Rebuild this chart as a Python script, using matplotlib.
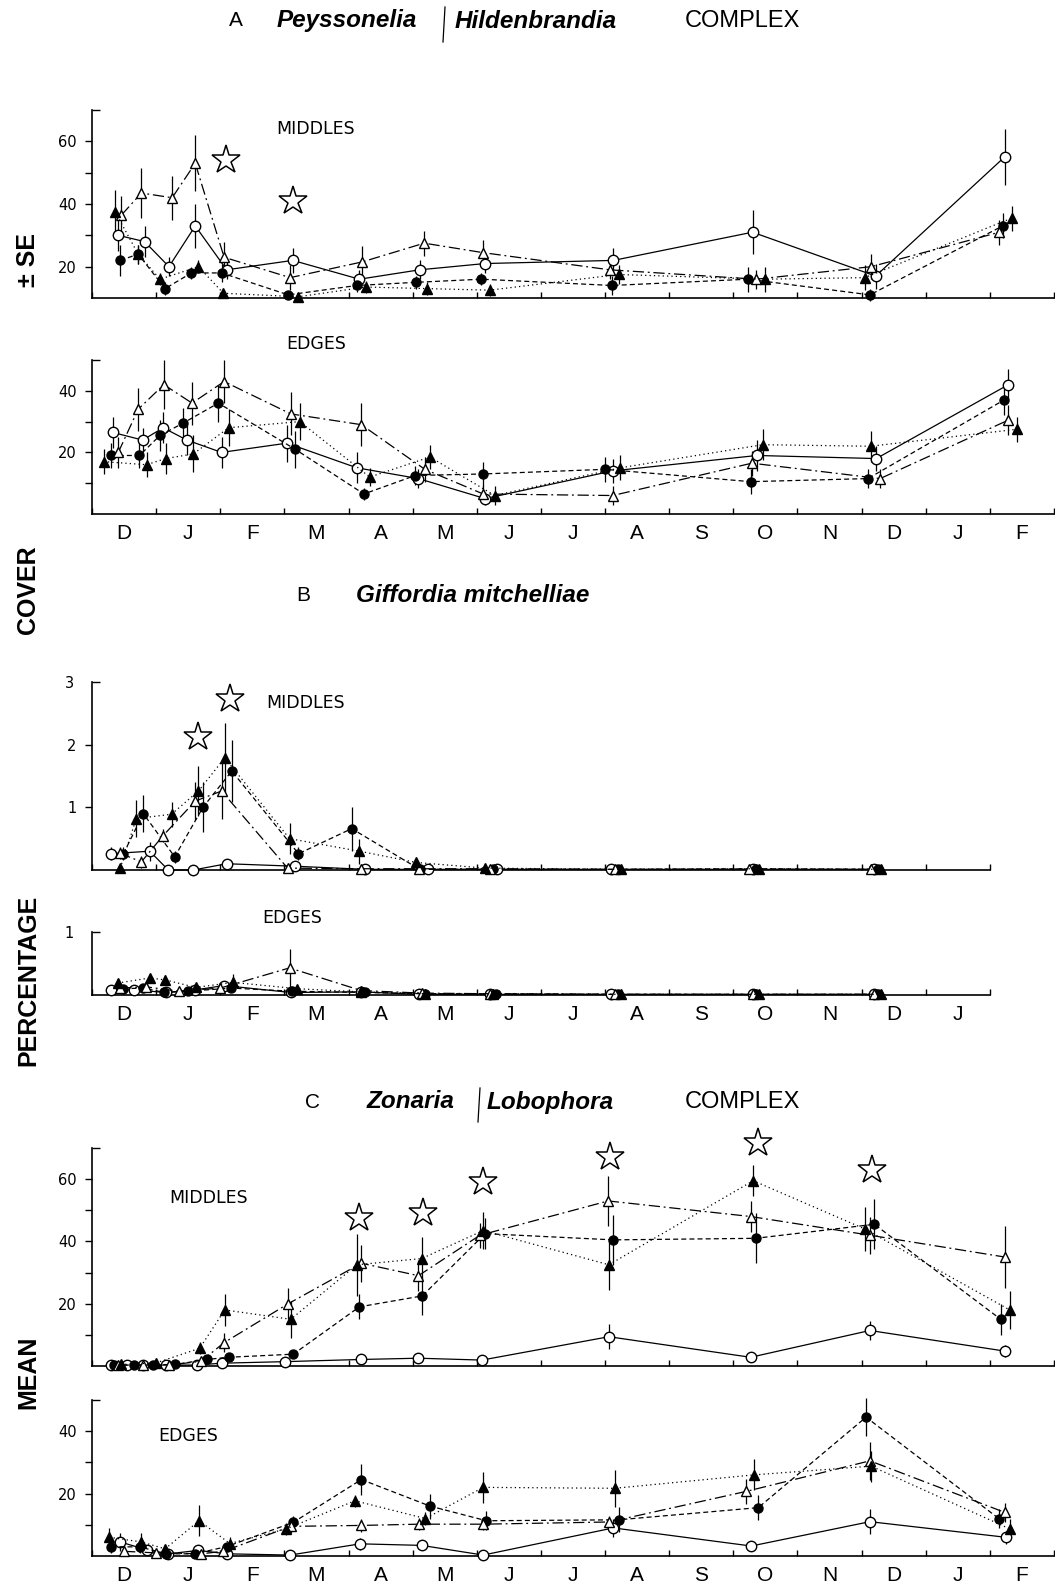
import matplotlib.pyplot as plt
from matplotlib.lines import Line2D

W, H = 1055, 1596
months = ['D', 'J', 'F', 'M', 'A', 'M', 'J', 'J', 'A', 'S', 'O', 'N', 'D', 'J', 'F']

# each point: (month since 1 Dec, mean % cover, SE)
# A  Peyssonelia / Hildenbrandia, middles
a_mid_oc = [(0.41, 30, 5), (0.82, 28, 5), (1.20, 20, 3), (1.61, 33, 7), (2.10, 19, 3), (3.13, 22, 4),
            (4.17, 16, 3), (5.11, 19, 3), (6.13, 21, 3), (8.13, 22, 4), (10.30, 31, 7), (12.22, 17, 4),
            (14.23, 55, 9)]
a_mid_fc = [(0.44, 22, 5), (0.72, 24, 3), (1.14, 13, 2), (1.55, 18, 2), (2.02, 18, 3), (3.06, 11, 1),
            (4.13, 14, 2), (5.05, 15, 2), (6.07, 16, 2), (8.11, 14, 3), (10.23, 16, 4), (12.13, 11, 2),
            (14.20, 33, 4)]
a_mid_ot = [(0.46, 36.5, 6), (0.77, 43.5, 8), (1.25, 42, 7), (1.61, 53, 9), (2.06, 23, 5), (3.09, 16.5, 4),
            (4.21, 21.5, 5), (5.18, 27.5, 4), (6.09, 24.5, 4), (8.07, 19, 3), (10.36, 16, 3), (12.15, 20, 4),
            (14.15, 31, 4)]
a_mid_ft = [(0.36, 37.5, 7), (0.72, 24, 3), (1.06, 16, 2), (1.66, 20, 2), (2.05, 11.5, 1), (3.22, 10.4, 1),
            (4.27, 13.5, 2), (5.22, 13, 2), (6.20, 12.5, 2), (8.21, 17.5, 3), (10.49, 16, 4), (12.05, 16.5, 4),
            (14.34, 35.5, 4)]
a_mid_stars = [(2.09, 54), (3.14, 41)]

# A edges
a_edg_oc = [(0.32, 26.5, 5), (0.79, 24, 4), (1.11, 28, 5), (1.48, 24, 5), (2.02, 20, 5), (3.04, 23, 6),
            (4.13, 15, 5), (5.09, 11.5, 3), (6.13, 5, 2), (8.12, 14, 4), (10.37, 19, 5), (12.23, 18, 4),
            (14.29, 42, 5)]
a_edg_fc = [(0.29, 19, 4), (0.74, 19, 4), (1.06, 25.5, 5), (1.42, 29.5, 5), (1.97, 36, 6), (3.17, 21, 6),
            (4.24, 6.5, 2), (5.04, 12.5, 3), (6.10, 13, 4), (8.00, 14.5, 4), (10.27, 10.5, 4), (12.10, 11.5, 3),
            (14.22, 37, 5)]
a_edg_ot = [(0.41, 20, 5), (0.72, 34, 7), (1.12, 42, 8), (1.56, 36, 7), (2.06, 43, 7), (3.10, 32.5, 7),
            (4.20, 29, 7), (5.19, 14.5, 4), (6.10, 6.5, 3), (8.12, 6, 3), (10.29, 16.5, 4), (12.29, 11.5, 3),
            (14.29, 30.5, 5)]
a_edg_ft = [(0.18, 17, 4), (0.85, 16, 4), (1.15, 18, 5), (1.58, 19.5, 6), (2.13, 28, 6), (3.24, 30, 6),
            (4.33, 12, 3), (5.27, 18.5, 4), (6.28, 6, 3), (8.24, 15, 4), (10.46, 22.5, 5), (12.14, 22, 5),
            (14.42, 27.5, 4)]

# B  Giffordia mitchelliae, middles
b_mid_oc = [(0.29, 0.26, 0.1), (0.90, 0.3, 0.15), (1.19, 0.0, 0), (1.58, 0.0, 0), (2.10, 0.1, 0.03),
            (3.17, 0.06, 0), (4.26, 0.01, 0), (5.24, 0.01, 0), (6.31, 0.01, 0), (8.10, 0.01, 0),
            (10.30, 0.01, 0), (12.20, 0.01, 0)]
b_mid_fc = [(0.49, 0.26, 0.1), (0.80, 0.9, 0.3), (1.29, 0.21, 0.1), (1.73, 1.0, 0.4), (2.18, 1.58, 0.5),
            (3.22, 0.26, 0.1), (4.05, 0.66, 0.35), (5.11, 0.01, 0), (6.25, 0.01, 0), (8.20, 0.01, 0),
            (10.35, 0.02, 0), (12.25, 0.01, 0)]
b_mid_ot = [(0.43, 0.27, 0.1), (0.77, 0.13, 0.1), (1.11, 0.55, 0.1), (1.61, 1.1, 0.3), (2.02, 1.26, 0.45),
            (3.05, 0.03, 0.02), (4.20, 0.02, 0), (5.10, 0.02, 0), (6.20, 0.02, 0), (8.15, 0.01, 0),
            (10.25, 0.01, 0), (12.15, 0.01, 0)]
b_mid_ft = [(0.44, 0.03, 0), (0.69, 0.82, 0.3), (1.24, 0.89, 0.2), (1.66, 1.26, 0.4), (2.07, 1.79, 0.55),
            (3.08, 0.5, 0.25), (4.17, 0.3, 0.2), (5.06, 0.12, 0.05), (6.13, 0.03, 0), (8.25, 0.01, 0),
            (10.40, 0.02, 0), (12.30, 0.01, 0)]
b_mid_stars = [(1.66, 2.13), (2.15, 2.73)]

# B edges
b_edg_oc = [(0.30, 0.08, 0.03), (0.66, 0.08, 0.03), (1.15, 0.04, 0.02), (1.60, 0.08, 0.03), (2.06, 0.15, 0.05),
            (3.10, 0.04, 0.02), (4.20, 0.05, 0.02), (5.10, 0.01, 0), (6.20, 0.01, 0), (8.10, 0.01, 0),
            (10.30, 0.01, 0), (12.20, 0.01, 0)]
b_edg_fc = [(0.49, 0.1, 0.04), (0.80, 0.11, 0.04), (1.13, 0.04, 0.02), (1.50, 0.06, 0.02), (2.17, 0.11, 0.04),
            (3.12, 0.06, 0.02), (4.26, 0.04, 0.02), (5.20, 0.02, 0), (6.30, 0.02, 0), (8.20, 0.01, 0),
            (10.35, 0.01, 0), (12.25, 0.01, 0)]
b_edg_ot = [(0.44, 0.11, 0.04), (0.84, 0.13, 0.05), (1.35, 0.06, 0.02), (2.00, 0.11, 0.04), (3.08, 0.43, 0.3),
            (4.20, 0.07, 0.02), (5.15, 0.03, 0), (6.20, 0.02, 0), (8.15, 0.01, 0), (10.30, 0.01, 0),
            (12.20, 0.01, 0)]
b_edg_ft = [(0.40, 0.19, 0.06), (0.90, 0.27, 0.07), (1.14, 0.24, 0.07), (1.62, 0.12, 0.05), (2.20, 0.2, 0.13),
            (3.20, 0.1, 0.04), (4.20, 0.05, 0.02), (5.20, 0.02, 0), (6.25, 0.02, 0), (8.25, 0.01, 0),
            (10.40, 0.01, 0), (12.30, 0.01, 0)]

# C  Zonaria / Lobophora, middles
c_mid_oc = [(0.30, 0.2, 0), (0.55, 0.3, 0), (0.80, 0.3, 0), (1.15, 0.3, 0), (1.63, 0.3, 0), (2.02, 0.9, 0.5),
            (3.01, 1.4, 0.5), (4.20, 2.1, 0.5), (5.09, 2.5, 0.5), (6.08, 1.9, 0.5), (8.06, 9.4, 4),
            (10.27, 2.8, 1), (12.13, 11.4, 3), (14.23, 4.8, 2)]
c_mid_fc = [(0.35, 0.2, 0), (0.65, 0.3, 0), (0.95, 0.4, 0), (1.30, 0.5, 0), (1.79, 2.1, 1), (2.13, 2.8, 1),
            (3.14, 3.8, 1), (4.17, 19, 4), (5.15, 22.5, 6), (6.13, 42.5, 5), (8.13, 40.5, 8), (10.35, 41, 8),
            (12.20, 45.5, 8), (14.17, 15, 5)]
c_mid_ot = [(0.40, 0.3, 0), (0.80, 0.3, 0), (1.20, 0.3, 0), (1.70, 1.5, 0.5), (2.06, 7.5, 3), (3.06, 20, 5),
            (4.20, 33, 6), (5.09, 29, 5), (6.05, 42, 4), (8.05, 53, 8), (10.27, 48, 5), (12.13, 42, 6),
            (14.23, 35, 10)]
c_mid_ft = [(0.45, 0.5, 0), (1.00, 1.0, 0), (1.68, 5.7, 2), (2.07, 18, 5), (3.10, 15, 6), (4.13, 32.5, 10),
            (5.14, 34.5, 7), (6.10, 43.5, 6), (8.06, 32.5, 8), (10.31, 59.5, 5), (12.05, 44, 7),
            (14.31, 18, 6)]
c_mid_stars = [(4.17, 47.5), (5.16, 49), (6.10, 59), (8.08, 67), (10.39, 71.6), (12.17, 63)]

# C edges
c_edg_oc = [(0.44, 4.5, 3), (0.85, 2, 1), (1.19, 0.7, 0.5), (1.66, 1.8, 1), (2.10, 0.7, 0.5), (3.09, 0.3, 0),
            (4.18, 3.9, 2), (5.14, 3.4, 1), (6.10, 0.3, 0), (8.13, 9, 3), (10.28, 3.2, 1), (12.13, 11, 4),
            (14.25, 6, 2)]
c_edg_fc = [(0.30, 3, 2), (0.75, 2.9, 2), (1.15, 0.7, 0.5), (1.60, 0.7, 0.5), (2.10, 3, 1), (3.14, 10.8, 2),
            (4.20, 24.5, 5), (5.27, 16, 4), (6.15, 11.3, 3), (8.21, 11.6, 4), (10.39, 15.5, 4),
            (12.07, 44.5, 6), (14.14, 12, 3)]
c_edg_ot = [(0.50, 1.5, 1), (1.00, 1.0, 0.5), (1.70, 0.7, 0.5), (2.05, 1.5, 0.5), (3.10, 9.5, 2), (4.20, 9.8, 2),
            (5.10, 10.2, 2), (6.10, 10.2, 2), (8.06, 10.9, 2), (10.20, 20.7, 4), (12.13, 30.5, 6),
            (14.23, 14, 3)]
c_edg_ft = [(0.27, 6, 3), (0.77, 4.5, 3), (1.14, 2.3, 1), (1.67, 11.3, 5), (2.15, 4, 2), (3.03, 8.7, 2),
            (4.10, 17.7, 2), (5.20, 12, 2), (6.10, 22, 5), (8.15, 21.7, 6), (10.32, 26, 5), (12.15, 28.8, 5),
            (14.31, 8.7, 3)]

styles = [
    dict(marker='o', mfc='white', ms=7.5, ls='-'),                 # open circles
    dict(marker='o', mfc='black', ms=6.5, ls=(0, (4, 2.5))),       # filled circles
    dict(marker='^', mfc='white', ms=7, ls=(0, (9, 3, 1.5, 3))),   # open triangles
    dict(marker='^', mfc='black', ms=7, ls=(0, (1, 2.5))),         # filled triangles
]

fig = plt.figure(figsize=(W / 100, H / 100), dpi=100)


def px(x, y):
    return x / W, 1 - y / H


def panel(top, bottom, series, ylim, yticks, ylabs, top_lab, n=15, mlabels=False, stars=()):
    right = 92 + n * 64.13
    ax = fig.add_axes([92 / W, 1 - bottom / H, (right - 92) / W, (bottom - top) / H])
    for data, st in zip(series, styles):
        x = [d[0] for d in data]
        y = [d[1] for d in data]
        e = [d[2] for d in data]
        ax.vlines(x, [a - b for a, b in zip(y, e)], [a + b for a, b in zip(y, e)],
                  color='black', lw=0.9, zorder=2, clip_on=False)
        ax.plot(x, y, color='black', mec='black', lw=0.9, mew=1.0, zorder=3, clip_on=False, **st)
    if stars:
        ax.plot([s[0] for s in stars], [s[1] for s in stars], ls='none', marker='*', ms=21,
                mfc='white', mec='black', mew=1.1, clip_on=False, zorder=4)
    ax.set_xlim(0, n)
    ax.set_ylim(*ylim)
    for s in ['top', 'right']:
        ax.spines[s].set_visible(False)
    for s in ['left', 'bottom']:
        ax.spines[s].set_linewidth(1.2)
    ax.set_xticks(range(n + 1))
    ax.set_xticklabels([])
    ax.tick_params(axis='x', which='major', direction='in', length=4, width=1)
    if mlabels:
        ax.set_xticks([i + 0.5 for i in range(n)], months[:n], minor=True)
        ax.tick_params(axis='x', which='minor', length=0, pad=7, labelsize=15)
        for t in ax.get_xticklabels(minor=True):
            t.set_family('Liberation Sans')
    ax.set_yticks(yticks, ylabs)
    ax.tick_params(axis='y', which='major', direction='out', length=5, width=1, labelsize=10.5, pad=6)
    ax.set_yticks([top_lab[0]], [top_lab[1]], minor=True)
    ax.tick_params(axis='y', which='minor', direction='in', length=6, width=1, labelsize=10.5, pad=13)
    return ax


panel(110, 298, [a_mid_oc, a_mid_fc, a_mid_ot, a_mid_ft], (10, 70), [20, 30, 40, 50, 60],
      ['20', '', '40', '', '60'], (70, ''), stars=a_mid_stars)
panel(360, 514, [a_edg_oc, a_edg_fc, a_edg_ot, a_edg_ft], (0, 50), [10, 20, 30, 40],
      ['', '20', '', '40'], (50, ''), mlabels=True)
panel(682, 870, [b_mid_oc, b_mid_fc, b_mid_ot, b_mid_ft], (0, 3), [1, 2], ['1', '2'], (3, '3'),
      n=14, stars=b_mid_stars)
panel(932, 995, [b_edg_oc, b_edg_fc, b_edg_ot, b_edg_ft], (0, 1), [], [], (1, '1'), n=14, mlabels=True)
panel(1148, 1366, [c_mid_oc, c_mid_fc, c_mid_ot, c_mid_ft], (0, 70), [10, 20, 30, 40, 50, 60],
      ['', '20', '', '40', '', '60'], (70, ''), stars=c_mid_stars)
panel(1400, 1556, [c_edg_oc, c_edg_fc, c_edg_ot, c_edg_ft], (0, 50), [10, 20, 30, 40],
      ['', '20', '', '40'], (50, ''), mlabels=True)

# panel sub-labels
for x, y, s in [(316, 129, 'MIDDLES'), (316, 344, 'EDGES'), (306, 703, 'MIDDLES'), (292, 918, 'EDGES'),
                (209, 1198, 'MIDDLES'), (188, 1436, 'EDGES')]:
    fig.text(*px(x, y), s, ha='center', va='center', fontsize=12.5, family='DejaVu Sans')

# titles
narrow = ['Liberation Sans Narrow', 'Liberation Sans']
fig.text(*px(236, 21), 'A', ha='center', va='center', fontsize=15, family='Liberation Sans')
fig.text(*px(277, 21), 'Peyssonelia', ha='left', va='center', fontsize=17.5, family=narrow,
         weight='bold', style='italic')
fig.text(*px(455, 21), 'Hildenbrandia', ha='left', va='center', fontsize=17.5, family=narrow,
         weight='bold', style='italic')
fig.text(*px(685, 21), 'COMPLEX', ha='left', va='center', fontsize=17, family='Liberation Sans')
fig.add_artist(Line2D([445 / W, 443 / W], [1 - 7 / H, 1 - 42 / H], color='black', lw=0.9))

fig.text(*px(303, 596), 'B', ha='center', va='center', fontsize=15, family='Liberation Sans')
fig.text(*px(356, 596), 'Giffordia mitchelliae', ha='left', va='center', fontsize=17.5, family=narrow,
         weight='bold', style='italic')

fig.text(*px(313, 1102), 'C', ha='center', va='center', fontsize=15, family='Liberation Sans')
fig.text(*px(367, 1102), 'Zonaria', ha='left', va='center', fontsize=17.5, family=narrow,
         weight='bold', style='italic')
fig.text(*px(487, 1102), 'Lobophora', ha='left', va='center', fontsize=17.5, family=narrow,
         weight='bold', style='italic')
fig.text(*px(685, 1102), 'COMPLEX', ha='left', va='center', fontsize=17, family='Liberation Sans')
fig.add_artist(Line2D([480 / W, 478 / W], [1 - 1088 / H, 1 - 1122 / H], color='black', lw=0.9))

# vertical y label split over the column
for y, s in [(260, '\u00b1 SE'), (590, 'COVER'), (980, 'PERCENTAGE'), (1372, 'MEAN')]:
    fig.text(*px(28, y), s, rotation=90, ha='center', va='center', fontsize=18, family=narrow,
             weight='bold')

fig.savefig('out.png', dpi=100)
